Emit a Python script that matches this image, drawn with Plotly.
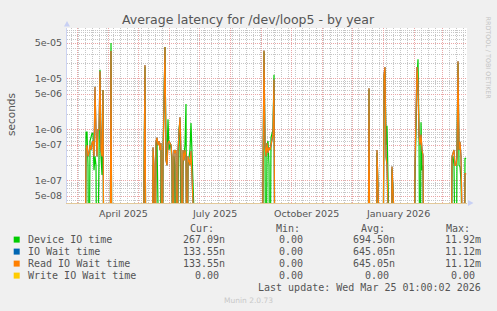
import plotly.graph_objects as go
import pandas as pd
import numpy as np

# ---------------- data ----------------
active_days = [
    "2025-03-10", "2025-03-11", "2025-03-12", "2025-03-13", "2025-03-14", "2025-03-15",
    "2025-03-16", "2025-03-17", "2025-03-18", "2025-03-19", "2025-03-20", "2025-03-21",
    "2025-03-22", "2025-03-23", "2025-03-24", "2025-03-25", "2025-03-26", "2025-03-27",
    "2025-04-04",
    "2025-05-07", "2025-05-08",
    "2025-05-16", "2025-05-17", "2025-05-19", "2025-05-20", "2025-05-21", "2025-05-22",
    "2025-05-23", "2025-05-24", "2025-05-26", "2025-05-27", "2025-05-28", "2025-05-29",
    "2025-05-30", "2025-05-31", "2025-06-01", "2025-06-02", "2025-06-03", "2025-06-04",
    "2025-06-06", "2025-06-07", "2025-06-08", "2025-06-10", "2025-06-11", "2025-06-12",
    "2025-06-13", "2025-06-15", "2025-06-16", "2025-06-17", "2025-06-18", "2025-06-20",
    "2025-06-21", "2025-06-22", "2025-06-23",
    "2025-09-03", "2025-09-04", "2025-09-05", "2025-09-06", "2025-09-07", "2025-09-08",
    "2025-09-09", "2025-09-10", "2025-09-11", "2025-09-12", "2025-09-13", "2025-09-14",
    "2025-12-18", "2025-12-26",
    "2026-01-02", "2026-01-03", "2026-01-04", "2026-01-05", "2026-01-06", "2026-01-10",
    "2026-02-02", "2026-02-03", "2026-02-04", "2026-02-05", "2026-02-06", "2026-02-07",
    "2026-02-08", "2026-02-09", "2026-02-10",
    "2026-03-11", "2026-03-12", "2026-03-13", "2026-03-14", "2026-03-15", "2026-03-16",
    "2026-03-17", "2026-03-18", "2026-03-19", "2026-03-20", "2026-03-24", "2026-03-25",
]
device_io_time = [
    9e-7, 9e-7, 2e-7, 0, 6e-7, 7e-7,
    8.5e-7, 8.5e-7, 1.6e-7, 3e-7, 2e-7, 0,
    0, 3e-7, 1.5e-5, 3e-7, 1.3e-7, 6e-6,
    5e-5,
    1e-7, 1.7e-5,
    2e-7, 1e-7, 5e-7, 6e-7, 1.5e-7, 8e-8,
    0, 4e-7, 2e-7, 1e-5, 4.2e-5, 2.5e-7,
    3e-7, 1.6e-6, 4e-7, 5e-7, 5e-7, 2e-7,
    3e-7, 2e-7, 0, 3e-7, 1e-6, 1.5e-6,
    3e-7, 2e-7, 3e-7, 5e-7, 3.2e-6, 2e-7,
    3e-7, 4e-7, 1.35e-6,
    1e-7, 3.4e-5, 3e-7, 0, 5e-7, 6e-7,
    2e-7, 0, 7e-7, 8e-7, 1e-6, 1.2e-5,
    6e-6, 3.5e-7,
    1e-5, 1.4e-5, 5e-7, 1.2e-6, 3e-7, 1.7e-7,
    1e-7, 3e-6, 1e-5, 2.4e-5, 8e-7, 0,
    1.4e-6, 1.6e-7, 2e-7,
    2.5e-7, 3e-7, 2e-7, 0, 0, 3e-7,
    2e-5, 2e-7, 1.9e-7, 1e-7, 2.8e-7, 2.6709e-7,
]
read_io_wait_time = [
    4e-7, 5e-7, 3e-7, 3.5e-7, 5e-7, 4e-7,
    5.5e-7, 6e-7, 3e-7, 7e-6, 1e-6, 3e-7,
    1e-6, 1e-6, 1.4e-5, 4e-7, 3e-7, 6e-6,
    3.5e-5,
    1e-7, 1.85e-5,
    4.5e-7, 2e-7, 6e-7, 7e-7, 5e-7, 6e-7,
    4e-7, 5.5e-7, 3e-7, 1e-5, 4.2e-5, 2.5e-7,
    2e-7, 5.5e-7, 6e-7, 5.5e-7, 5e-7, 3e-7,
    4e-7, 3.5e-7, 4e-7, 4e-7, 1.2e-6, 1.75e-6,
    3.5e-7, 4e-7, 2.5e-7, 4e-7, 3e-7, 3e-7,
    2.5e-7, 2e-7, 3.8e-7,
    1e-7, 3.6e-5, 5e-7, 3e-7, 5.5e-7, 3.5e-7,
    4.5e-7, 4e-7, 5e-7, 6e-7, 8e-7, 9.7e-6,
    6.5e-6, 4e-7,
    1.2e-5, 1.7e-5, 3e-7, 2e-7, 0, 1.9e-7,
    2e-7, 3e-6, 1.7e-5, 8e-6, 8e-7, 5e-7,
    8e-7, 4e-7, 3.2e-7,
    3e-7, 3.5e-7, 4e-7, 2e-7, 2e-7, 3e-7,
    2.2e-5, 4e-7, 5.8e-7, 3e-7, 1.4e-7, 1.3355e-7,
]
io_wait_time = list(read_io_wait_time)          # identical to read wait (see legend)
write_io_wait_time = [0.0] * len(active_days)

series_names = ["Device IO time", "IO Wait time", "Read IO Wait time", "Write IO Wait time"]
series_colors = ["#00cc00", "#0066b3", "#ff8000", "#ffcc00"]
series_values = [device_io_time, io_wait_time, read_io_wait_time, write_io_wait_time]
cur_vals = ["267.09n", "133.55n", "133.55n", "0.00"]
min_vals = ["0.00", "0.00", "0.00", "0.00"]
avg_vals = ["694.50n", "645.05n", "645.05n", "0.00"]
max_vals = ["11.92m", "11.12m", "11.12m", "0.00"]

y_tick_vals = [5e-8, 1e-7, 5e-7, 1e-6, 5e-6, 1e-5, 5e-5]
y_tick_text = ["5e-08", "1e-07", "5e-07", "1e-06", "5e-06", "1e-05", "5e-05"]
x_label_text = ["April 2025", "July 2025", "October 2025", "January 2026"]
x_label_pos = ["2025-04-16", "2025-07-16", "2025-10-16", "2026-01-16"]

title = "Average latency for /dev/loop5 - by year"
last_update = "Last update: Wed Mar 25 01:00:02 2026"

# ---------------- build ----------------
START, END = "2025-02-19", "2026-03-26"
days = pd.date_range("2025-02-19", "2026-03-25", freq="D")
FLOOR = 1e-10  # rrdtool draws zero at the bottom of a log axis

W, H = 497, 311
L, R, T, B = 67, 467, 28, 203
def px(x):
    return (x - L) / (R - L)
def py(y):
    return (B - y) / (B - T)

fig = go.Figure()
for name, color, vals in zip(series_names, series_colors, series_values):
    s = pd.Series(vals, index=pd.to_datetime(active_days)).reindex(days, fill_value=0.0)
    yv = np.where(s.values > 0, s.values, FLOOR)
    fig.add_trace(go.Scatter(x=days, y=yv, mode="lines", name=name,
                             line=dict(color=color, width=1.2), hoverinfo="skip",
                             showlegend=False))

month_starts = pd.date_range("2025-03-01", "2026-03-01", freq="MS")
weeks = pd.date_range("2025-02-23", "2026-03-22", freq="7D")

minor_y = []
for e in range(-8, -4):
    for m in [2, 3, 4, 6, 7, 8, 9]:
        v = m * 10.0 ** e
        if 3.6e-8 < v < 1e-4:
            minor_y.append(v)

RED = "#eaa6a6"
GRAY = "#c6c6c6"
TXT = "#555555"

fig.update_layout(
    width=W, height=H, autosize=False,
    margin=dict(l=L, r=W - R, t=T, b=H - B, pad=0),
    paper_bgcolor="#f0f0f0", plot_bgcolor="#ffffff",
    font=dict(family="DejaVu Sans", size=10, color=TXT),
    xaxis=dict(type="date", range=[START, END], tickvals=list(month_starts),
               showticklabels=False, ticks="", showgrid=True, gridcolor=RED,
               griddash="1px,1px", gridwidth=1, zeroline=False,
               showline=True, linecolor="#e2c99a", linewidth=1,
               minor=dict(tickvals=list(weeks), showgrid=True, gridcolor=GRAY,
                          griddash="1px,1px", gridwidth=1, ticks=""),
               automargin=False, fixedrange=True),
    yaxis=dict(type="log", range=[np.log10(3.65e-8), np.log10(9.9e-5)],
               tickvals=y_tick_vals, ticktext=y_tick_text, ticks="",
               tickfont=dict(family="DejaVu Sans", size=9.5, color=TXT),
               showgrid=True, gridcolor=RED, griddash="1px,1px", gridwidth=1,
               zeroline=False, showline=True, linecolor="#ccd3f2", linewidth=1,
               minor=dict(tickvals=minor_y, showgrid=True, gridcolor=GRAY,
                          griddash="1px,1px", gridwidth=1, ticks=""),
               ticklabelstandoff=2,
               automargin=False, fixedrange=True),
)

ann = []
ann.append(dict(x=px(248.5), y=py(19), xref="paper", yref="paper", text=title,
                showarrow=False, xanchor="center", yanchor="middle",
                font=dict(family="DejaVu Sans", size=12.5, color=TXT)))
ann.append(dict(x=px(11), y=py(114), xref="paper", yref="paper", text="seconds",
                showarrow=False, textangle=-90, xanchor="center", yanchor="middle",
                font=dict(family="DejaVu Sans", size=10.5, color=TXT)))
for t, d in zip(x_label_text, x_label_pos):
    ann.append(dict(x=d, y=py(213), xref="x", yref="paper", text=t, showarrow=False,
                    xanchor="center", yanchor="middle",
                    font=dict(family="DejaVu Sans", size=9.5, color=TXT)))
ann.append(dict(x=px(487.5), y=py(58), xref="paper", yref="paper",
                text="RRDTOOL / TOBI OETIKER", showarrow=False, textangle=90,
                xanchor="center", yanchor="middle",
                font=dict(family="DejaVu Sans", size=6.4, color="#c4c4c4")))

MONO = "DejaVu Sans Mono"
CW = 6.0
headers = [("Cur:", 201.7), ("Min:", 288.0), ("Avg:", 372.5), ("Max:", 458.3)]
for h, cx in headers:
    ann.append(dict(x=px(cx), y=py(228), xref="paper", yref="paper", text=h,
                    showarrow=False, xanchor="center", yanchor="middle",
                    font=dict(family=MONO, size=10, color=TXT)))
col_right = [226.7, 311.0, 396.7, 482.7]
row_y = [239.6, 251.6, 263.6, 275.6]
shapes = []
for i, name in enumerate(series_names):
    yy = row_y[i]
    ann.append(dict(x=px(26), y=py(yy), xref="paper", yref="paper", text=name,
                    showarrow=False, xanchor="left", yanchor="middle",
                    font=dict(family=MONO, size=10, color=TXT)))
    shapes.append(dict(type="rect", xref="paper", yref="paper",
                       x0=px(13.7), x1=px(19.7), y0=py(yy + 3), y1=py(yy - 3),
                       fillcolor=series_colors[i], line=dict(width=0)))
    for vals, cr in zip([cur_vals, min_vals, avg_vals, max_vals], col_right):
        v = vals[i]
        right = cr if v[-1].isalpha() else cr - CW
        ann.append(dict(x=px(right), y=py(yy), xref="paper", yref="paper", text=v,
                        showarrow=False, xanchor="right", yanchor="middle",
                        font=dict(family=MONO, size=10, color=TXT)))
ann.append(dict(x=px(482.7), y=py(287.6), xref="paper", yref="paper", text=last_update,
                showarrow=False, xanchor="right", yanchor="middle",
                font=dict(family=MONO, size=10, color=TXT)))
ann.append(dict(x=px(248), y=py(300.5), xref="paper", yref="paper", text="Munin 2.0.73",
                showarrow=False, xanchor="center", yanchor="middle",
                font=dict(family="DejaVu Sans", size=7.5, color="#c8c8c8")))

shapes.append(dict(type="path", xref="paper", yref="paper",
                   path=f"M {px(64)} {py(26.5)} L {px(70)} {py(26.5)} L {px(67)} {py(21)} Z",
                   fillcolor="#c8d0f4", line=dict(width=0)))
shapes.append(dict(type="path", xref="paper", yref="paper",
                   path=f"M {px(468)} {py(200)} L {px(468)} {py(206)} L {px(473.5)} {py(203)} Z",
                   fillcolor="#c8d0f4", line=dict(width=0)))

fig.update_layout(annotations=ann, shapes=shapes)
fig.write_html("out.html")
